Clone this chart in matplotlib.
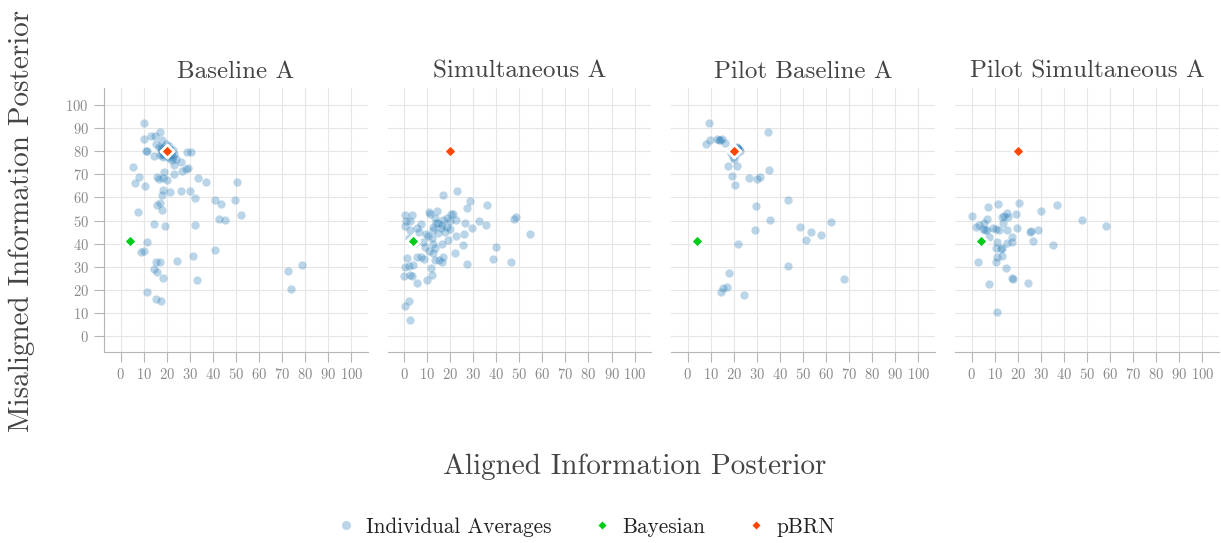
import matplotlib
matplotlib.use("Agg")
import matplotlib.pyplot as plt
from matplotlib.lines import Line2D

plt.rcParams['font.family'] = 'serif'
plt.rcParams['font.serif'] = ['cmr10']
plt.rcParams['mathtext.fontset'] = 'cm'
plt.rcParams['axes.formatter.use_mathtext'] = True

titles = ['Baseline A', 'Simultaneous A', 'Pilot Baseline A', 'Pilot Simultaneous A']

# individual averages (aligned, misaligned)
base_x = [10.3, 10.0, 13.2, 14.9, 17.1, 18.1, 15.2, 11.0, 11.3, 28.9, 30.5, 14.6, 22.1, 24.0, 26.0,
          23.1, 29.0, 28.3, 26.7, 5.3, 18.9, 23.3, 7.9, 15.6, 16.8, 18.5, 20.2, 33.5, 36.8, 6.1,
          10.5, 50.6, 18.2, 21.2, 26.0, 29.9, 18.1, 32.1, 40.8, 43.6, 49.4, 15.8, 17.1, 17.9, 7.4,
          42.8, 45.1, 52.3, 14.6, 19.2, 32.2, 11.3, 9.0, 10.0, 40.9, 31.5, 15.2, 17.2, 24.3, 14.3,
          15.8, 18.4, 32.9, 72.5, 78.5, 73.8, 11.3, 15.2, 17.6, 4.6,
          17.5, 18.0, 19.0, 21.0, 22.0, 20.5, 19.0, 18.5, 21.5, 16.5, 20.0, 22.5, 17.0, 19.5, 21.0,
          20.0, 18.0, 21.8, 19.2, 22.8, 20.8, 17.8, 23.0]
base_y = [92.3, 85.5, 86.8, 86.7, 88.2, 85.0, 83.1, 80.2, 80.0, 79.9, 79.9, 78.0, 76.3, 76.7, 75.3,
          74.1, 72.7, 72.3, 71.7, 73.3, 71.2, 70.1, 69.1, 68.8, 67.9, 68.6, 67.6, 68.4, 66.8, 66.3,
          65.2, 66.6, 63.3, 62.4, 62.9, 62.7, 61.0, 59.8, 59.1, 57.1, 59.0, 56.8, 57.5, 54.6, 53.8,
          50.7, 50.1, 52.5, 48.4, 47.8, 48.1, 40.8, 36.3, 36.6, 37.1, 34.7, 32.1, 31.9, 32.4, 29.0,
          27.6, 24.9, 24.0, 28.3, 30.9, 20.1, 18.9, 15.9, 15.2, 42.2,
          81.5, 80.0, 82.0, 81.0, 79.0, 78.0, 78.5, 77.5, 80.5, 82.0, 79.5, 77.5, 78.5, 83.0, 82.5,
          81.0, 79.0, 79.8, 80.8, 80.5, 77.0, 81.2, 78.8]

sim_x = [17.1, 23.0, 28.8, 36.1, 27.2, 0.3, 3.5, 10.8, 14.3, 11.3, 20.5, 21.3, 0.9, 2.6, 0.6,
         2.6, 7.5, 5.8, 6.6, 13.4, 14.9, 17.1, 18.5, 22.4, 16.3, 18.8, 19.9, 12.4, 17.8, 26.3,
         29.3, 32.4, 35.5, 47.7, 48.7, 54.5, 22.5, 26.2, 10.3, 12.0, 19.2, 2.3, 4.0, 4.6, 8.4,
         9.1, 12.4, 13.4, 16.7, 25.7, 40.0, 22.3, 12.7, 5.8, 7.4, 8.8, 1.4, 13.4, 15.3, 16.3,
         17.1, 38.6, 46.2, 27.5, 0.4, 4.0, 2.3, 11.6, 0.0, 2.6, 3.3, 12.1, 5.6, 10.1, 0.6,
         2.2, 2.5, 12.7, 14.9, 15.9, 19.9, 9.4, 11.0, 14.0]
sim_y = [61.0, 62.9, 58.5, 56.8, 55.3, 52.5, 52.2, 53.5, 54.0, 52.7, 53.0, 52.8, 49.9, 50.0, 47.7,
         46.0, 48.3, 46.7, 44.9, 51.0, 49.1, 50.3, 51.0, 50.3, 48.1, 47.1, 46.2, 47.4, 45.2, 48.8,
         46.7, 50.0, 48.1, 50.7, 51.4, 44.2, 43.1, 44.2, 43.4, 42.3, 41.5, 42.6, 42.3, 40.4, 40.9,
         38.7, 39.9, 38.0, 40.0, 39.6, 38.6, 36.1, 35.8, 34.1, 34.0, 33.4, 33.7, 33.0, 32.7, 32.2,
         34.1, 33.1, 31.8, 31.1, 29.9, 30.5, 30.1, 29.3, 26.0, 26.3, 25.9, 26.4, 23.0, 24.1, 13.0,
         15.0, 6.8, 46.0, 44.5, 46.7, 49.6, 44.2, 37.0, 49.0]

pb_x = [9.1, 9.6, 7.8, 12.8, 14.1, 15.0, 16.1, 34.8, 19.0, 21.5, 22.0, 21.0, 18.6, 19.7, 21.6,
        22.6, 20.0, 17.6, 21.3, 35.3, 19.3, 26.6, 30.1, 31.2, 20.6, 43.3, 29.8, 35.8, 48.9, 53.5,
        51.4, 57.6, 62.0, 29.2, 21.7, 43.5, 67.9, 17.7, 14.4, 15.4, 17.1, 24.5, 21.2, 22.3, 13.5]
pb_y = [92.5, 85.0, 83.2, 85.3, 84.8, 85.3, 83.8, 88.4, 80.0, 81.5, 80.5, 79.0, 79.2, 77.7, 81.4,
        80.3, 76.6, 73.7, 73.6, 71.8, 69.5, 68.5, 67.9, 68.8, 65.3, 59.0, 56.5, 50.4, 47.3, 44.9,
        41.6, 43.9, 49.3, 45.8, 40.0, 30.1, 24.7, 27.2, 19.1, 20.7, 21.2, 17.8, 82.0, 81.0, 85.0]

ps_x = [20.7, 11.3, 7.1, 37.1, 29.9, 0.0, 6.8, 13.3, 13.8, 15.5, 15.8, 19.2, 13.6, 47.8, 58.1,
        1.9, 3.3, 5.3, 4.8, 5.9, 6.5, 9.1, 10.7, 11.7, 15.5, 19.7, 25.3, 25.6, 28.9, 7.5,
        17.6, 17.3, 11.1, 15.2, 26.4, 35.4, 10.4, 12.6, 13.0, 11.0, 13.3, 2.9, 10.5, 15.0, 17.5,
        18.1, 24.4, 7.7, 10.8]
ps_y = [57.5, 57.2, 55.8, 56.8, 54.3, 51.9, 50.6, 51.6, 51.8, 53.2, 51.4, 52.7, 48.8, 50.1, 47.7,
        47.4, 48.1, 48.8, 46.2, 46.0, 45.7, 46.7, 46.2, 45.7, 46.0, 46.8, 45.1, 45.5, 46.0, 42.8,
        42.8, 40.9, 40.8, 40.2, 41.0, 39.5, 38.3, 37.6, 38.2, 34.1, 34.7, 31.9, 31.8, 29.2, 24.9,
        24.7, 23.1, 22.3, 10.4]

xs = [base_x, sim_x, pb_x, ps_x]
ys = [base_y, sim_y, pb_y, ps_y]

bayes = (4.0, 41.3)
pbrn = (20.0, 80.0)

ticks = list(range(0, 101, 10))
blue = '#1f77b4'
green = '#00cc1a'
red = '#ff4500'
grid_c = '#e6e6e6'
spine_c = '#b5b5b5'
tick_c = '#8a8a8a'
text_c = '#444444'

fig = plt.figure(figsize=(12.21, 5.43), dpi=100)
W, H = 1221, 543
lefts = [104.3, 387.6, 671.3, 955.3]
for i in range(4):
    ax = fig.add_axes([lefts[i] / W, 1 - 351.7 / H, 263.4 / W, (351.7 - 88) / H])
    ax.scatter(xs[i], ys[i], s=36, color=blue, alpha=0.3, linewidths=0, zorder=3)
    ax.scatter([bayes[0]], [bayes[1]], s=45, marker='D', color=green, edgecolors='white',
               linewidths=2.0, zorder=4)
    ax.scatter([pbrn[0]], [pbrn[1]], s=45, marker='D', color=red, edgecolors='white',
               linewidths=2.0, zorder=4)
    ax.set_xlim(-7.1, 107.1)
    ax.set_ylim(-6.9, 107.5)
    ax.set_xticks(ticks)
    ax.set_yticks(ticks)
    ax.grid(True, color=grid_c, linewidth=0.8, zorder=0)
    ax.set_axisbelow(True)
    for s in ['top', 'right']:
        ax.spines[s].set_visible(False)
    ax.spines['bottom'].set_color(spine_c)
    ax.spines['left'].set_color(spine_c)
    ax.tick_params(axis='x', length=7.2, width=0.8, color=spine_c, labelcolor=tick_c,
                   labelsize=10.5, pad=3.5)
    if i == 0:
        ax.tick_params(axis='y', length=7.2, width=0.8, color=spine_c, labelcolor=tick_c,
                       labelsize=10.5, pad=4)
    else:
        ax.spines['left'].set_visible(False)
        ax.tick_params(axis='y', length=0, labelleft=False)
    ax.set_title(titles[i], fontsize=18, color=text_c, pad=7.5)

fig.text(635 / W, 1 - 467 / H, 'Aligned Information Posterior', fontsize=21, color=text_c,
         ha='center', va='center')
fig.text(22 / W, 1 - 221 / H, 'Misaligned Information Posterior', fontsize=21, color=text_c,
         ha='center', va='center', rotation=90)

handles = [
    Line2D([], [], linestyle='none', marker='o', markersize=6.5, color=blue, alpha=0.3,
           markeredgewidth=0),
    Line2D([], [], linestyle='none', marker='D', markersize=5.5, color=green,
           markeredgecolor='white', markeredgewidth=1),
    Line2D([], [], linestyle='none', marker='D', markersize=5.5, color=red,
           markeredgecolor='white', markeredgewidth=1),
]
leg = fig.legend(handles, ['Individual Averages', 'Bayesian', 'pBRN'], loc='center',
                 bbox_to_anchor=(585 / W, 1 - 527 / H), ncol=3, frameon=False, fontsize=15.3,
                 handlelength=1.0, handletextpad=0.45, columnspacing=1.9)
for t in leg.get_texts():
    t.set_color('#222222')

fig.savefig('out.png', dpi=100)
